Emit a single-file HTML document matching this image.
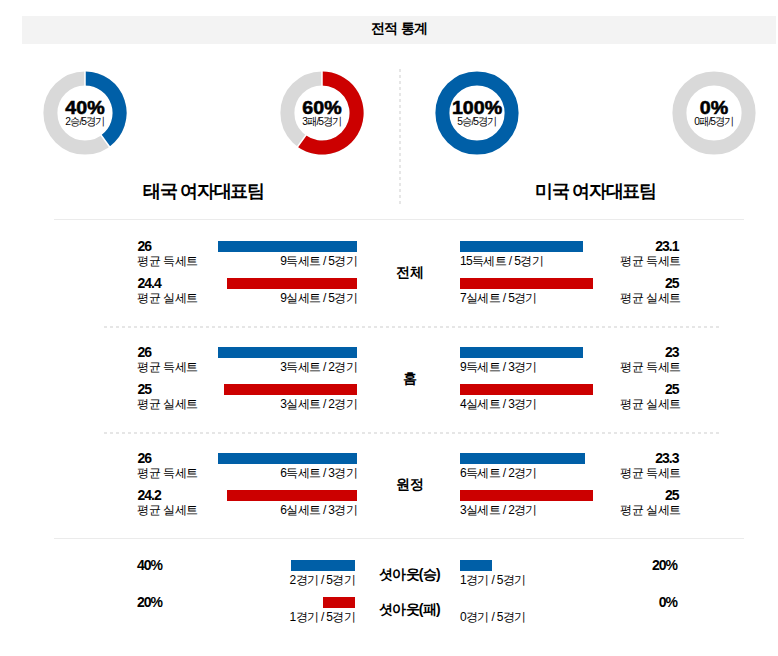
<!DOCTYPE html>
<html lang="ko">
<head>
<meta charset="utf-8">
<title>전적 통계</title>
<style>
html,body{margin:0;padding:0;background:#fff;}
body{width:778px;height:656px;position:relative;overflow:hidden;font-family:"Liberation Sans",sans-serif;color:#000;}
.abs,.dn,.t,.bar,.num,.lab,.ctr,.pct,.sub,.team{position:absolute;white-space:nowrap;}
.hd{left:22px;top:16px;width:754px;height:28px;background:#f3f3f3;}
.hdt{left:22px;top:14px;width:754px;height:28px;line-height:28px;text-align:center;font-size:14px;font-weight:bold;letter-spacing:-0.6px;}
.vline{left:399px;top:69px;width:2px;height:135px;background:repeating-linear-gradient(to bottom,#e6e6e6 0,#e6e6e6 3px,transparent 3px,transparent 6px);}
.hline{left:54px;width:690px;height:1px;background:#ebebeb;}
.dline{left:104px;width:615px;height:2px;background:repeating-linear-gradient(to right,#e6e6e6 0,#e6e6e6 3px,transparent 3px,transparent 6px);}
.team{width:300px;text-align:center;font-size:18px;font-weight:bold;line-height:24px;letter-spacing:-1.25px;}
.pct{width:88px;text-align:center;font-size:18px;font-weight:bold;line-height:18px;letter-spacing:0;-webkit-text-stroke:0.55px #000;transform:scaleX(1.09);transform-origin:50% 50%;}
.sub{width:88px;text-align:center;font-size:11px;line-height:12px;letter-spacing:-1px;color:#000;transform:scaleX(0.93);transform-origin:50% 50%;}
.bar{height:11px;}
.b{background:#005fa7;}
.r{background:#cc0000;}
.num{font-size:14px;font-weight:bold;line-height:14px;letter-spacing:-1px;}
.lab{font-size:12px;line-height:14px;letter-spacing:-0.45px;color:#000;}
.bt{letter-spacing:-0.65px;}
.ra{text-align:right;}
.ctr{width:120px;text-align:center;font-size:14px;font-weight:bold;line-height:18px;letter-spacing:-0.4px;}
</style>
</head>
<body>
<div class="abs hd"></div>
<div class="abs hdt">전적 통계</div>

<svg class="dn" style="left:41px;top:69px" width="88" height="88" viewBox="-44 -44 88 88"><circle r="34.6" fill="none" stroke="#d9d9d9" stroke-width="14.0"/><path d="M0.000 -41.600 A41.6 41.6 0 0 1 24.452 33.655 L16.223 22.329 A27.6 27.6 0 0 0 0.000 -27.600 Z" fill="#005fa7"/><path d="M0.000 -26.600 L0.000 -42.600 M15.635 21.520 L25.040 34.464" stroke="#fff" stroke-width="1.5" fill="none"/></svg>
<div class="pct" style="left:41px;top:99px">40%</div>
<div class="sub" style="left:41px;top:115px">2승/5경기</div>
<svg class="dn" style="left:278px;top:69px" width="88" height="88" viewBox="-44 -44 88 88"><circle r="34.6" fill="none" stroke="#d9d9d9" stroke-width="14.0"/><path d="M0.000 -41.600 A41.6 41.6 0 1 1 -24.452 33.655 L-16.223 22.329 A27.6 27.6 0 1 0 0.000 -27.600 Z" fill="#cc0000"/><path d="M0.000 -26.600 L0.000 -42.600 M-15.635 21.520 L-25.040 34.464" stroke="#fff" stroke-width="1.5" fill="none"/></svg>
<div class="pct" style="left:278px;top:99px">60%</div>
<div class="sub" style="left:278px;top:115px">3패/5경기</div>
<svg class="dn" style="left:433px;top:69px" width="88" height="88" viewBox="-44 -44 88 88"><circle r="34.6" fill="none" stroke="#005fa7" stroke-width="14.0"/></svg>
<div class="pct" style="left:433px;top:99px">100%</div>
<div class="sub" style="left:433px;top:115px">5승/5경기</div>
<svg class="dn" style="left:670px;top:69px" width="88" height="88" viewBox="-44 -44 88 88"><circle r="34.6" fill="none" stroke="#d9d9d9" stroke-width="14.0"/></svg>
<div class="pct" style="left:670px;top:99px">0%</div>
<div class="sub" style="left:670px;top:115px">0패/5경기</div>
<div class="abs vline"></div>
<div class="team" style="left:53.5px;top:179px">태국 여자대표팀</div>
<div class="team" style="left:445.5px;top:179px">미국 여자대표팀</div>
<div class="abs hline" style="top:219px"></div>
<div class="num" style="left:137.5px;top:239px">26</div>
<div class="lab" style="left:137px;top:254px">평균 득세트</div>
<div class="bar b" style="left:218px;top:241px;width:139px"></div>
<div class="lab bt ra" style="left:157px;width:200px;top:254px">9득세트 / 5경기</div>
<div class="bar b" style="left:460px;top:241px;width:123px"></div>
<div class="lab bt" style="left:460px;top:254px">15득세트 / 5경기</div>
<div class="num ra" style="left:478.5px;width:200px;top:239px">23.1</div>
<div class="lab ra" style="left:481px;width:200px;top:254px">평균 득세트</div>
<div class="num" style="left:137.5px;top:276px">24.4</div>
<div class="lab" style="left:137px;top:291px">평균 실세트</div>
<div class="bar r" style="left:227px;top:278px;width:130px"></div>
<div class="lab bt ra" style="left:157px;width:200px;top:291px">9실세트 / 5경기</div>
<div class="bar r" style="left:460px;top:278px;width:133px"></div>
<div class="lab bt" style="left:460px;top:291px">7실세트 / 5경기</div>
<div class="num ra" style="left:478.5px;width:200px;top:276px">25</div>
<div class="lab ra" style="left:481px;width:200px;top:291px">평균 실세트</div>
<div class="ctr" style="left:350px;top:263px">전체</div>
<div class="abs dline" style="top:326px"></div>
<div class="num" style="left:137.5px;top:345px">26</div>
<div class="lab" style="left:137px;top:360px">평균 득세트</div>
<div class="bar b" style="left:218px;top:347px;width:139px"></div>
<div class="lab bt ra" style="left:157px;width:200px;top:360px">3득세트 / 2경기</div>
<div class="bar b" style="left:460px;top:347px;width:123px"></div>
<div class="lab bt" style="left:460px;top:360px">9득세트 / 3경기</div>
<div class="num ra" style="left:478.5px;width:200px;top:345px">23</div>
<div class="lab ra" style="left:481px;width:200px;top:360px">평균 득세트</div>
<div class="num" style="left:137.5px;top:382px">25</div>
<div class="lab" style="left:137px;top:397px">평균 실세트</div>
<div class="bar r" style="left:224px;top:384px;width:133px"></div>
<div class="lab bt ra" style="left:157px;width:200px;top:397px">3실세트 / 2경기</div>
<div class="bar r" style="left:460px;top:384px;width:133px"></div>
<div class="lab bt" style="left:460px;top:397px">4실세트 / 3경기</div>
<div class="num ra" style="left:478.5px;width:200px;top:382px">25</div>
<div class="lab ra" style="left:481px;width:200px;top:397px">평균 실세트</div>
<div class="ctr" style="left:349.5px;top:369px">홈</div>
<div class="abs dline" style="top:432px"></div>
<div class="num" style="left:137.5px;top:451px">26</div>
<div class="lab" style="left:137px;top:466px">평균 득세트</div>
<div class="bar b" style="left:218px;top:453px;width:139px"></div>
<div class="lab bt ra" style="left:157px;width:200px;top:466px">6득세트 / 3경기</div>
<div class="bar b" style="left:460px;top:453px;width:125px"></div>
<div class="lab bt" style="left:460px;top:466px">6득세트 / 2경기</div>
<div class="num ra" style="left:478.5px;width:200px;top:451px">23.3</div>
<div class="lab ra" style="left:481px;width:200px;top:466px">평균 득세트</div>
<div class="num" style="left:137.5px;top:488px">24.2</div>
<div class="lab" style="left:137px;top:503px">평균 실세트</div>
<div class="bar r" style="left:227px;top:490px;width:130px"></div>
<div class="lab bt ra" style="left:157px;width:200px;top:503px">6실세트 / 3경기</div>
<div class="bar r" style="left:460px;top:490px;width:133px"></div>
<div class="lab bt" style="left:460px;top:503px">3실세트 / 2경기</div>
<div class="num ra" style="left:478.5px;width:200px;top:488px">25</div>
<div class="lab ra" style="left:481px;width:200px;top:503px">평균 실세트</div>
<div class="ctr" style="left:350px;top:475px">원정</div>
<div class="abs hline" style="top:538px"></div>
<div class="num" style="left:137px;top:558px">40%</div>
<div class="bar b" style="left:291px;top:560px;width:64px"></div>
<div class="lab bt ra" style="left:155px;width:200px;top:573px">2경기 / 5경기</div>
<div class="ctr" style="left:349.5px;top:564.5px;letter-spacing:-0.7px">셧아웃(승)</div>
<div class="bar b" style="left:460px;top:560px;width:32px"></div>
<div class="lab bt" style="left:460px;top:573px">1경기 / 5경기</div>
<div class="num ra" style="left:477px;width:200px;top:558px">20%</div>
<div class="num" style="left:137px;top:595px">20%</div>
<div class="bar r" style="left:323px;top:597px;width:32px"></div>
<div class="lab bt ra" style="left:155px;width:200px;top:610px">1경기 / 5경기</div>
<div class="ctr" style="left:349.5px;top:600.0px;letter-spacing:-0.7px">셧아웃(패)</div>
<div class="lab bt" style="left:460px;top:610px">0경기 / 5경기</div>
<div class="num ra" style="left:477px;width:200px;top:595px">0%</div>
</body>
</html>
